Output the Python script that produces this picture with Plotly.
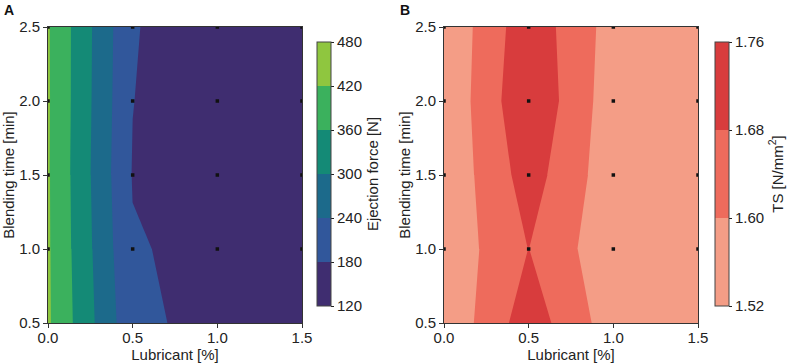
import plotly.graph_objects as go

# ---- data ----
lubricant = [0.0, 0.5, 1.0, 1.5]           # x grid [%]
blending = [0.5, 1.0, 1.5, 2.0, 2.5]       # y grid [min]

# Ejection force [N]; rows = blending time, cols = lubricant
ejection_force = [
    [428, 196, 157, 140],
    [427, 185, 163, 140],
    [426, 177, 150, 135],
    [426, 181, 135, 128],
    [425, 185, 130, 125],
]

# Tensile strength [N/mm2]
tensile_strength = [
    [1.532, 1.725, 1.557, 1.550],
    [1.542, 1.681, 1.541, 1.550],
    [1.535, 1.717, 1.550, 1.555],
    [1.531, 1.751, 1.553, 1.550],
    [1.531, 1.734, 1.566, 1.555],
]

# design points shown as markers
pts_x = [0.0, 0.5, 1.0, 1.5]
pts_y = [1.0, 1.5, 2.0, 2.5]

ef_ticks = [120, 180, 240, 300, 360, 420, 480]
ts_ticks = [1.52, 1.60, 1.68, 1.76]

ef_band_colors = ["#3f2d70", "#31579b", "#1c6a8b", "#148a76", "#3bb15d", "#8fc63f"]
ts_band_colors = ["#f49d86", "#ee6b5c", "#d83c3d"]


def contour_scale(bands):
    # plotly maps band k (k=1..n) of a fill contour to k/(n+1); add below/above bands
    colors = [bands[0]] + bands + [bands[-1]]
    n = len(colors) - 1
    scale = []
    for i, c in enumerate(colors):
        lo = 0 if i == 0 else (i - 0.5) / n
        hi = 1 if i == n else (i + 0.5) / n
        scale.append([lo, c])
        scale.append([hi, c])
    return scale


def bar_scale(bands):
    n = len(bands)
    scale = []
    for i, c in enumerate(bands):
        scale.append([i / n, c])
        scale.append([(i + 1) / n, c])
    return scale


W, H = 787, 364
def px(x):
    return x / W
def py(y):
    return 1 - y / H

FONT = "Liberation Sans, Arial, sans-serif"
TXT = "#222222"
FS = 15

fig = go.Figure()

fig.add_trace(go.Contour(
    x=lubricant, y=blending, z=ejection_force,
    autocontour=False,
    contours=dict(coloring="fill", showlines=False,
                  start=ef_ticks[0], end=ef_ticks[-1], size=ef_ticks[1] - ef_ticks[0]),
    colorscale=contour_scale(ef_band_colors), line=dict(width=0, smoothing=0),
    showscale=False, xaxis="x", yaxis="y", hoverinfo="skip",
))

fig.add_trace(go.Contour(
    x=lubricant, y=blending, z=tensile_strength,
    autocontour=False,
    contours=dict(coloring="fill", showlines=False,
                  start=ts_ticks[0], end=ts_ticks[-1], size=0.08),
    colorscale=contour_scale(ts_band_colors), line=dict(width=0, smoothing=0),
    showscale=False, xaxis="x2", yaxis="y2", hoverinfo="skip",
))

gx = [x for y in pts_y for x in pts_x]
gy = [y for y in pts_y for x in pts_x]
for xa, ya in (("x", "y"), ("x2", "y2")):
    fig.add_trace(go.Scatter(
        x=gx, y=gy, mode="markers", xaxis=xa, yaxis=ya,
        marker=dict(symbol="square", size=3.5, color="#111111", line=dict(width=0)),
        showlegend=False, hoverinfo="skip", cliponaxis=True,
    ))


def cbar(x0, ticks, ticktext, title, xa, ya, bands):
    return go.Scatter(
        x=[None], y=[None], mode="markers", xaxis=xa, yaxis=ya, showlegend=False, hoverinfo="skip",
        marker=dict(
            color=[ticks[0]], cmin=ticks[0], cmax=ticks[-1], colorscale=bar_scale(bands), showscale=True,
            colorbar=dict(
                x=px(x0), xanchor="left", xpad=0, ypad=0, y=py(174), yanchor="middle",
                len=264 / H, lenmode="fraction", thickness=14, thicknessmode="pixels",
                outlinewidth=1, outlinecolor="#444",
                tickvals=ticks, ticktext=ticktext, ticks="outside", ticklen=3, tickcolor=TXT,
                tickfont=dict(family=FONT, size=FS, color=TXT),
                title=dict(text=title, side="right", font=dict(family=FONT, size=FS, color=TXT)),
            ),
        ),
    )


fig.add_trace(cbar(317, ef_ticks, [str(v) for v in ef_ticks], "Ejection force [N]", "x", "y", ef_band_colors))
fig.add_trace(cbar(715, ts_ticks, [f"{v:.2f}" for v in ts_ticks], "TS [N/mm<sup>2</sup>]", "x2", "y2", ts_band_colors))

axis_common = dict(
    showline=True, mirror=True, linecolor="#333", linewidth=1,
    ticks="outside", ticklen=4, tickcolor="#333",
    showgrid=False, zeroline=False, automargin=False,
    tickfont=dict(family=FONT, size=FS, color=TXT),
    tickformat=".1f",
)
xt = dict(text="Lubricant [%]", standoff=3, font=dict(family=FONT, size=FS, color=TXT))
yt = dict(text="Blending time [min]", standoff=0, font=dict(family=FONT, size=FS, color=TXT))
xextra = dict(ticklabelstandoff=-3)

fig.update_layout(
    width=W, height=H, margin=dict(l=0, r=0, t=0, b=0, autoexpand=False),
    paper_bgcolor="white", plot_bgcolor="white", showlegend=False,
    xaxis=dict(domain=[px(48), px(302)], range=[0, 1.5], dtick=0.5, anchor="y", title=xt, **xextra, **axis_common),
    yaxis=dict(domain=[py(323), py(27)], range=[0.5, 2.5], dtick=0.5, anchor="x", title=yt, **axis_common),
    xaxis2=dict(domain=[px(444), px(698)], range=[0, 1.5], dtick=0.5, anchor="y2", title=xt, **xextra, **axis_common),
    yaxis2=dict(domain=[py(323), py(27)], range=[0.5, 2.5], dtick=0.5, anchor="x2", title=yt, **axis_common),
    annotations=[
        dict(text="<b>A</b>", x=px(2), y=1, xref="paper", yref="paper", xanchor="left", yanchor="top",
             showarrow=False, font=dict(family=FONT, size=14, color="#111")),
        dict(text="<b>B</b>", x=px(398), y=1, xref="paper", yref="paper", xanchor="left", yanchor="top",
             showarrow=False, font=dict(family=FONT, size=14, color="#111")),
    ],
)

fig.write_html("out.html")
